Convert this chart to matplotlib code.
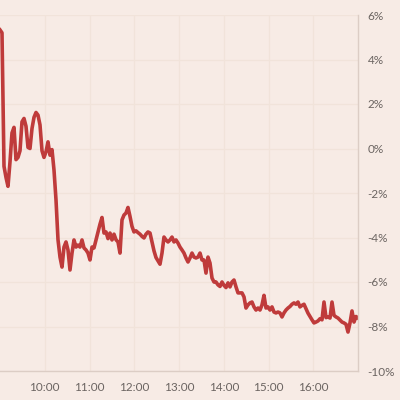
import pandas as pd
import matplotlib
matplotlib.use('Agg')
import matplotlib.pyplot as plt

# intraday % change (9:00 to 17:00)
pct_change = [
    5.33, 5.2, -0.8, -1.3, -1.7, -0.6, 0.7, 0.95, -0.5, -0.4,
    -0.1, 1.2, 1.35, 1.0, 0.05, 0.0, 0.9, 1.4, 1.62, 1.5,
    1.06, -0.1, -0.4, -0.15, 0.3, -0.3, -0.05, -0.97, -2.31, -4.1,
    -4.88, -5.33, -4.43, -4.2, -4.56, -5.46, -4.7, -4.11, -4.43, -4.34,
    -4.43, -4.11, -4.47, -4.56, -4.7, -5.01, -4.43, -4.47, -4.11, -3.75,
    -3.4, -3.1, -3.8, -3.75, -4.05, -3.8, -4.11, -3.85, -4.1, -4.2,
    -4.7, -3.21, -2.99, -2.9, -2.65, -3.05, -3.5, -3.75, -3.7, -3.78,
    -3.85, -3.95, -4.02, -3.85, -3.75, -3.8, -4.2, -4.6, -4.9, -5.05,
    -5.2, -4.7, -3.98, -4.11, -4.2, -4.11, -3.98, -4.2, -4.11, -4.25,
    -4.43, -4.56, -4.7, -4.92, -5.1, -4.92, -4.7, -4.88, -4.92, -4.88,
    -4.7, -5.01, -5.01, -5.6, -4.88, -5.15, -5.82, -6.0, -6.0, -6.13,
    -6.2, -6.0, -6.15, -6.25, -6.04, -6.22, -6.0, -5.91, -6.22, -6.49,
    -6.49, -6.49, -6.67, -7.17, -7.03, -6.94, -6.9, -7.12, -7.26, -7.17,
    -7.26, -7.03, -6.6, -7.17, -7.12, -7.26, -7.12, -7.35, -7.39, -7.35,
    -7.39, -7.57, -7.39, -7.26, -7.17, -7.1, -7.0, -6.94, -7.0, -6.9,
    -7.12, -7.05, -7.0, -7.2, -7.4, -7.55, -7.7, -7.84, -7.8, -7.75,
    -7.65, -7.7, -6.9, -7.6, -7.57, -7.62, -6.9, -7.5, -7.57, -7.62,
    -7.71, -7.8, -7.84, -7.9, -8.25, -7.84, -7.3, -7.8, -7.55, -7.62,
]
times = pd.date_range('2020-01-01 09:00', '2020-01-01 17:00', periods=len(pct_change))

y_ticks = [6, 4, 2, 0, -2, -4, -6, -8, -10]
y_labels = ['6%', '4%', '2%', '0%', '-2%', '-4%', '-6%', '-8%', '-10%']
x_hours = ['10:00', '11:00', '12:00', '13:00', '14:00', '15:00', '16:00']

bg = '#f7ebe5'
plt.rcParams['font.family'] = ['Lato', 'DejaVu Sans']

fig = plt.figure(figsize=(4, 4), dpi=100, facecolor=bg)
ax = fig.add_axes([0.0, 0.0725, 0.895, 0.89], facecolor=bg)

ax.plot(times, pct_change, color='#bf3b3b', lw=2.6)

ax.set_xlim(times[0], times[-1])
ax.set_ylim(-10, 6)

ax.yaxis.tick_right()
ax.set_yticks(y_ticks)
ax.set_yticklabels(y_labels)
xt = [pd.Timestamp('2020-01-01 ' + h) for h in x_hours]
ax.set_xticks(xt)
ax.set_xticklabels(x_hours)

ax.tick_params(axis='both', length=0, colors='#6b6461', labelsize=8.5)
ax.tick_params(axis='y', pad=7)
ax.tick_params(axis='x', pad=8)

ax.grid(True, color='#f1e3da', lw=0.9)
ax.set_axisbelow(True)
for s in ['top', 'left']:
    ax.spines[s].set_visible(False)
for s in ['bottom', 'right']:
    ax.spines[s].set_color('#dccdc5')
    ax.spines[s].set_linewidth(1)

fig.savefig('out.png', dpi=100, facecolor=bg)
